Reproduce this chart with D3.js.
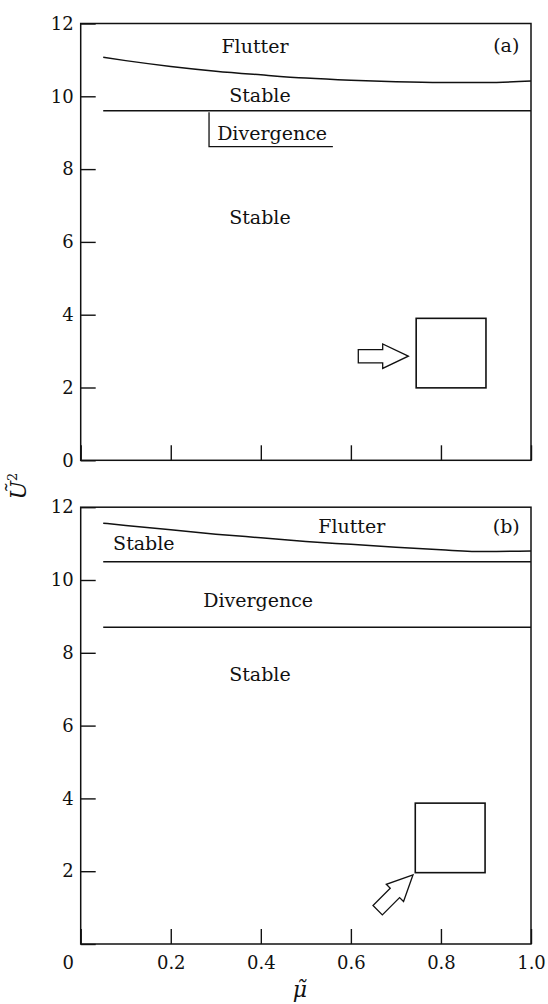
<!DOCTYPE html>
<html>
<head>
<meta charset="utf-8">
<script src="https://cdn.jsdelivr.net/npm/d3@7"></script>
<style>
  html, body { margin: 0; padding: 0; background: #fff; }
  svg { display: block; }
  text { font-family: "DejaVu Serif", serif; fill: #111; }
</style>
</head>
<body>
<svg id="chart" width="548" height="1004"></svg>
<script>
// Mass ratio values at which the boundaries were computed
const mu = [0.05, 0.1, 0.2, 0.3, 0.4, 0.5, 0.6, 0.7, 0.8, 0.9, 1.0];

// (a) flutter boundary and stable/divergence boundary
const flutterA = [11.07, 10.98, 10.82, 10.69, 10.59, 10.50, 10.44, 10.40, 10.38, 10.38, 10.42];
const divergenceA = [9.60, 9.60];

// (b) flutter boundary and the two divergence boundaries
const flutterB = [11.56, 11.50, 11.38, 11.26, 11.16, 11.06, 10.98, 10.90, 10.83, 10.78, 10.80];
const divergenceUpperB = [10.50, 10.50];
const divergenceLowerB = [8.70, 8.70];
const lineExtent = [0.05, 1.0];

// Axis ticks
const yTicks = [0, 2, 4, 6, 8, 10, 12];
const yLabelsA = ["0", "2", "4", "6", "8", "10", "12"];
const yLabelsB = ["", "2", "4", "6", "8", "10", "12"];
const xTicks = [0, 0.2, 0.4, 0.6, 0.8, 1.0];
const xLabels = ["0", "0.2", "0.4", "0.6", "0.8", "1.0"];

// Region labels: [text, mu, U^2 baseline, anchor]
const regionsA = [
  ["Flutter", 0.387, 11.19, "middle"],
  ["Stable", 0.398, 9.85, "middle"],
  ["Divergence", 0.303, 8.80, "start"],
  ["Stable", 0.398, 6.49, "middle"],
  ["(a)", 0.945, 11.23, "middle"]
];
const regionsB = [
  ["Flutter", 0.602, 11.29, "middle"],
  ["(b)", 0.945, 11.29, "middle"],
  ["Stable", 0.072, 10.82, "start"],
  ["Divergence", 0.394, 9.26, "middle"],
  ["Stable", 0.398, 7.23, "middle"]
];

// Bracket under the divergence label in (a): corner mu, end mu, top and bottom U^2
const bracketA = { mu0: 0.285, mu1: 0.56, top: 9.60, bottom: 8.62 };

// Square section sketch and approach arrow (tip position and direction in degrees)
const sectionA = { mu0: 0.745, mu1: 0.90, u0: 1.99, u1: 3.90 };
const sectionB = { mu0: 0.743, mu1: 0.898, u0: 1.96, u1: 3.87 };
const arrowA = { mu: 0.7275, u: 2.86, angle: 0 };
const arrowB = { mu: 0.738, u: 1.90, angle: -45 };

const svg = d3.select("#chart");

const x = d3.scaleLinear().domain([0, 1]).range([80.7, 531]);
const yA = d3.scaleLinear().domain([0, 12]).range([460.3, 23.5]);
const yB = d3.scaleLinear().domain([0, 12]).range([944, 507.2]);

const ink = "#111";

function panel(y, yLabels, showXLabels) {
  const g = svg.append("g");

  // frame
  g.append("rect")
    .attr("x", x(0)).attr("y", y(12))
    .attr("width", x(1) - x(0)).attr("height", y(0) - y(12))
    .attr("fill", "none").attr("stroke", ink).attr("stroke-width", 1.5);

  const yAxis = d3.axisLeft(y).tickValues(yTicks)
    .tickSizeInner(-15).tickSizeOuter(0).tickPadding(7)
    .tickFormat((d, i) => yLabels[i]);
  const ga = g.append("g").attr("transform", `translate(${x(0)},0)`).call(yAxis);
  ga.select(".domain").remove();
  ga.selectAll(".tick line").attr("stroke", ink).attr("stroke-width", 1.4);
  ga.selectAll(".tick text").attr("font-family", "DejaVu Serif").attr("font-size", 18).attr("fill", ink);

  const xAxis = d3.axisBottom(x).tickValues(xTicks)
    .tickSizeInner(-15).tickSizeOuter(0).tickPadding(12)
    .tickFormat((d, i) => showXLabels ? xLabels[i] : "");
  const gx = g.append("g").attr("transform", `translate(0,${y(0)})`).call(xAxis);
  gx.select(".domain").remove();
  gx.selectAll(".tick line").attr("stroke", ink).attr("stroke-width", 1.4);
  gx.selectAll(".tick text").attr("font-family", "DejaVu Serif").attr("font-size", 18).attr("fill", ink);
  // origin label sits left of the corner
  gx.selectAll(".tick text").filter(d => d === 0).attr("x", -13);
  return g;
}

const gA = panel(yA, yLabelsA, false);
const gB = panel(yB, yLabelsB, true);

function curve(g, y, values) {
  const line = d3.line().x((d, i) => x(mu[i])).y(d => y(d)).curve(d3.curveMonotoneX);
  g.append("path").datum(values).attr("d", line)
    .attr("fill", "none").attr("stroke", ink).attr("stroke-width", 1.5);
}
function hline(g, y, values) {
  const line = d3.line().x((d, i) => x(lineExtent[i])).y(d => y(d));
  g.append("path").datum(values).attr("d", line)
    .attr("fill", "none").attr("stroke", ink).attr("stroke-width", 1.5);
}

curve(gA, yA, flutterA);
hline(gA, yA, divergenceA);
curve(gB, yB, flutterB);
hline(gB, yB, divergenceUpperB);
hline(gB, yB, divergenceLowerB);

// bracket in (a)
gA.append("path")
  .attr("d", `M${x(bracketA.mu0)},${yA(bracketA.top) + 1.5}V${yA(bracketA.bottom)}H${x(bracketA.mu1)}`)
  .attr("fill", "none").attr("stroke", ink).attr("stroke-width", 1.3);

function labels(g, y, list) {
  g.selectAll("text.region").data(list).enter().append("text")
    .attr("class", "region")
    .attr("x", d => x(d[1])).attr("y", d => y(d[2]))
    .attr("text-anchor", d => d[3])
    .attr("font-size", 19)
    .text(d => d[0]);
}
labels(gA, yA, regionsA);
labels(gB, yB, regionsB);

function section(g, y, s) {
  g.append("rect")
    .attr("x", x(s.mu0)).attr("y", y(s.u1))
    .attr("width", x(s.mu1) - x(s.mu0)).attr("height", y(s.u0) - y(s.u1))
    .attr("fill", "none").attr("stroke", ink).attr("stroke-width", 1.6);
}
section(gA, yA, sectionA);
section(gB, yB, sectionB);

// block arrow, tip at origin pointing along +x
const arrowShape = [[0, 0], [-25.6, -12.2], [-25.6, -6.6], [-50, -6.6], [-50, 6.6], [-25.6, 6.6], [-25.6, 12.2]];
function arrow(g, y, a) {
  g.append("polygon")
    .attr("points", arrowShape.map(p => p.join(",")).join(" "))
    .attr("transform", `translate(${x(a.mu)},${y(a.u)}) rotate(${a.angle})`)
    .attr("fill", "#fff").attr("stroke", ink).attr("stroke-width", 1.3)
    .attr("stroke-linejoin", "miter");
}
arrow(gA, yA, arrowA);
arrow(gB, yB, arrowB);

// axis titles
svg.append("text")
  .attr("transform", "translate(26,486) rotate(-90)")
  .attr("text-anchor", "middle")
  .attr("font-size", 22).attr("font-style", "italic")
  .text("Ũ")
  .append("tspan").attr("font-size", 13).attr("dy", -9).attr("font-style", "normal").text("2");

svg.append("text")
  .attr("x", 300).attr("y", 997)
  .attr("text-anchor", "middle")
  .attr("font-size", 22).attr("font-style", "italic")
  .text("μ\u0303");
</script>
</body>
</html>
